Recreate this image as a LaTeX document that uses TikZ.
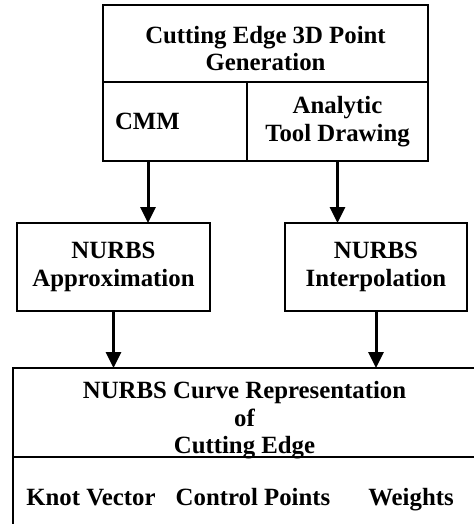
\documentclass[tikz,border=0pt]{standalone}
\usepackage{fontspec}
\setmainfont{Liberation Serif}
\usetikzlibrary{arrows.meta,positioning}

\begin{document}
\begin{tikzpicture}[
  x=0.5pt,y=-0.5pt,
  every node/.style={font=\fontsize{12.4}{13.8}\selectfont\bfseries,align=center},
  cell/.style={draw,line width=1.4pt,inner sep=0pt,outer sep=0pt},
  arr/.style={-{Triangle[length=8pt,width=7.5pt]},line width=1.5pt}
]
\useasboundingbox (0,0) rectangle (474,524);
\node[cell,minimum width=162.5pt,minimum height=38.5pt] (gen) at (265.5,43.5) {};
\node (gentext) at ([yshift=-2.5pt]gen.center) {Cutting Edge 3D Point\\Generation};
\node[cell,anchor=north west,minimum width=72pt,minimum height=39.5pt,text width=60pt,align=left] (cmm) at (gen.south west) {CMM};
\node[cell,anchor=north west,minimum width=90.5pt,minimum height=39.5pt] (tool) at (cmm.north east) {Analytic\\Tool Drawing};
\node[cell,minimum width=96.5pt,minimum height=44pt] (approx) at (113.5,267) {NURBS\\Approximation};
\node[cell,minimum width=91pt,minimum height=44pt] (interp) at (376,267) {NURBS\\Interpolation};
\node[cell,minimum width=231.5pt,minimum height=44.5pt] (curve) at (244.5,412.5) {};
\node (curvetext) at ([yshift=-4pt]curve.center) {NURBS Curve Representation\\of\\Cutting Edge};
\node[cell,anchor=north west,minimum width=231.5pt,minimum height=34pt] (params) at (curve.south west) {};
\node[anchor=base] (knot) at (91,505) {Knot Vector};
\node[anchor=base] (ctrl) at (253,505) {Control Points};
\node[anchor=base] (wts) at (411,505) {Weights};
\draw[arr] ([xshift=-13.5pt]cmm.south) -- ([xshift=-13.5pt]cmm.south |- approx.north);
\draw[arr] (tool.south) -- (tool.south |- interp.north);
\draw[arr] (approx.south) -- (approx.south |- curve.north);
\draw[arr] (interp.south) -- (interp.south |- curve.north);
\end{tikzpicture}
\end{document}
